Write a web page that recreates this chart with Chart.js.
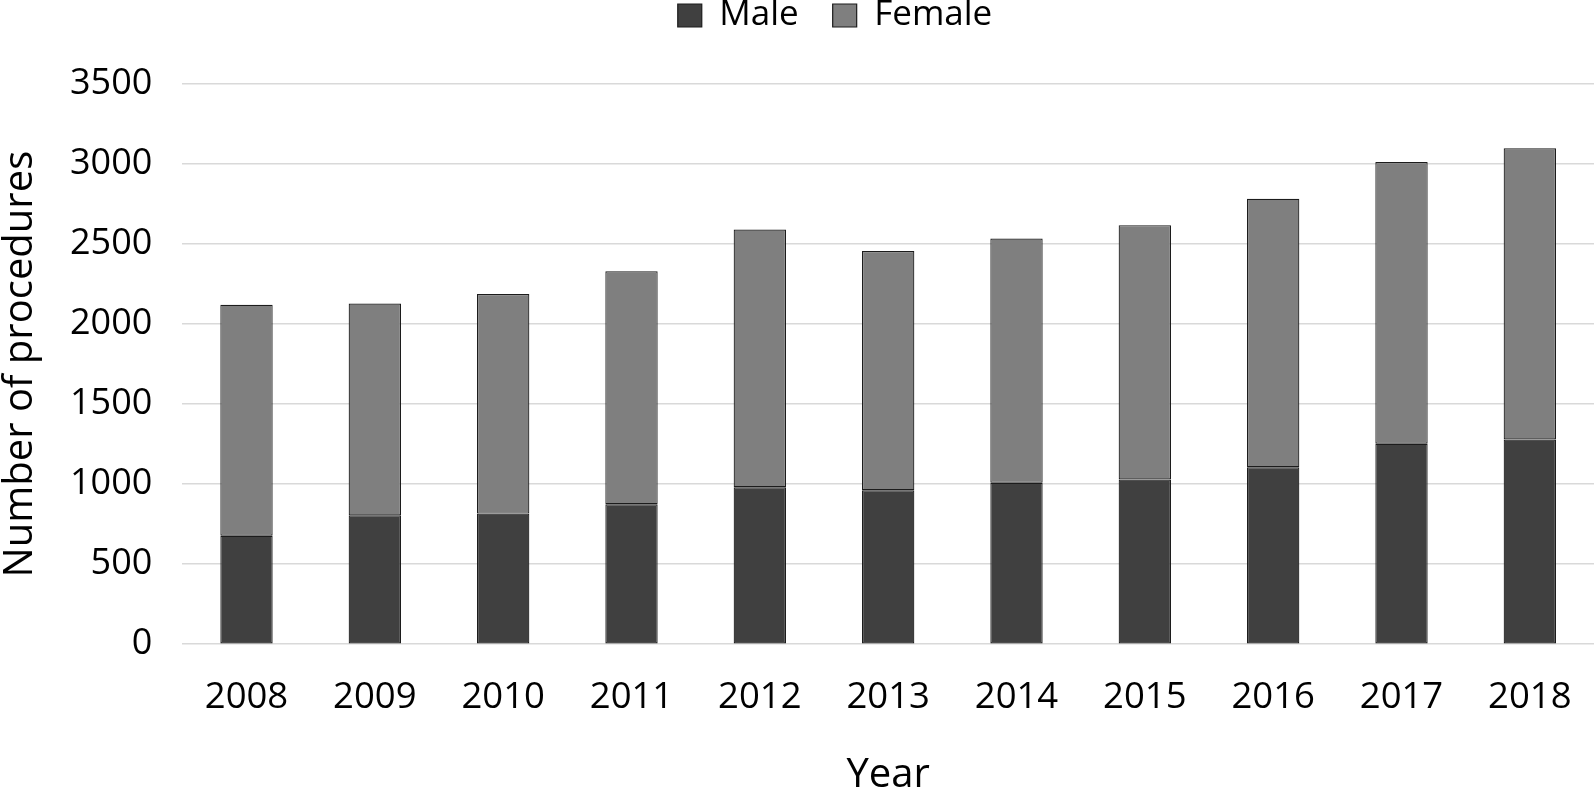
<!DOCTYPE html>
<html>
<head>
<meta charset="utf-8">
<script src="https://cdn.jsdelivr.net/npm/chart.js@4.4.1/dist/chart.umd.min.js"></script>
<style>
  html, body { margin: 0; padding: 0; background: #ffffff; }
  #wrap { width: 1594px; height: 790px; position: relative; }
</style>
</head>
<body>
<div id="wrap"><canvas id="c" width="1594" height="790"></canvas></div>
<script>
const years = ['2008', '2009', '2010', '2011', '2012', '2013', '2014', '2015', '2016', '2017', '2018'];
const maleValues = [678, 805, 816, 874, 981, 962, 1008, 1029, 1106, 1252, 1279];
const femaleValues = [1443, 1323, 1372, 1456, 1610, 1494, 1526, 1589, 1677, 1760, 1819];
const seriesNames = ['Male', 'Female'];
const yTicks = [0, 500, 1000, 1500, 2000, 2500, 3000, 3500];
const xTitle = 'Year';
const yTitle = 'Number of procedures';

const FONT = "'Open Sans', 'Noto Sans', sans-serif";

const legendShift = {
  id: 'legendShift',
  afterLayout(chart) {
    const lg = chart.legend;
    if (!lg) return;
    const dy = -36 - lg.top;
    lg.top += dy; lg.bottom += dy;
    const dx = 38;
    lg.left += dx; lg.right += dx;
  }
};

new Chart(document.getElementById('c'), {
  type: 'bar',
  data: {
    labels: years,
    datasets: [
      {
        label: seriesNames[0],
        data: maleValues,
        backgroundColor: '#404040',
        borderColor: '#1c1c1c',
        borderWidth: 1.2,
        borderSkipped: false,
        barPercentage: 0.408,
        categoryPercentage: 1.0
      },
      {
        label: seriesNames[1],
        data: femaleValues,
        backgroundColor: '#7f7f7f',
        borderColor: '#1c1c1c',
        borderWidth: 1.2,
        borderSkipped: false,
        barPercentage: 0.408,
        categoryPercentage: 1.0
      }
    ]
  },
  options: {
    responsive: false,
    animation: false,
    devicePixelRatio: 1,
    layout: { padding: { top: 5, left: 0, right: 0, bottom: 0 } },
    plugins: {
      legend: {
        display: true,
        position: 'top',
        align: 'center',
        maxHeight: 200,
        labels: {
          boxWidth: 24,
          boxHeight: 23,
          padding: 34,
          color: '#000000',
          font: { family: FONT, size: 35 }
        }
      },
      tooltip: { enabled: false },
      title: { display: false }
    },
    scales: {
      x: {
        stacked: true,
        grid: {
          display: true,
          drawOnChartArea: false,
          drawTicks: true,
          tickLength: 29,
          tickColor: 'rgba(0,0,0,0)'
        },
        border: { display: false },
        ticks: {
          color: '#000000',
          padding: 3,
          font: { family: FONT, size: 36.5 }
        },
        title: {
          display: true,
          text: xTitle,
          color: '#000000',
          font: { family: FONT, size: 40, lineHeight: 1 },
          padding: { top: 33, bottom: -6 }
        }
      },
      y: {
        stacked: true,
        min: 0,
        max: 3500,
        afterBuildTicks(scale) { scale.ticks = yTicks.map(v => ({ value: v })); },
        grid: {
          color: '#d9d9d9',
          lineWidth: 1.5,
          drawTicks: true,
          tickLength: 27,
          tickColor: 'rgba(0,0,0,0)'
        },
        border: { display: false },
        ticks: {
          color: '#000000',
          padding: 3,
          font: { family: FONT, size: 36 },
          callback: (v) => String(v)
        },
        title: {
          display: true,
          text: yTitle,
          color: '#000000',
          font: { family: FONT, size: 40, lineHeight: 1 },
          padding: { top: 1, bottom: 26 }
        }
      }
    }
  },
  plugins: [legendShift]
});
</script>
</body>
</html>
